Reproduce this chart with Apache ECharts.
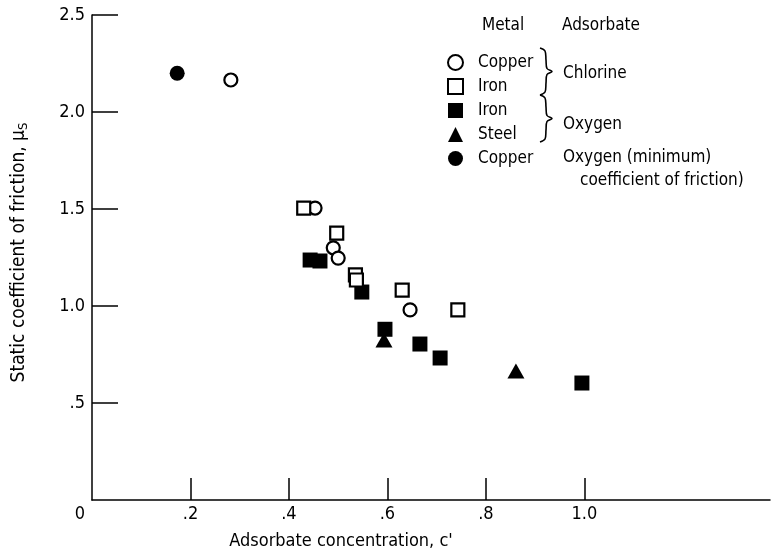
<!DOCTYPE html>
<html>
<head>
<meta charset="utf-8">
<script src="https://cdn.jsdelivr.net/npm/echarts@6/dist/echarts.min.js"></script>
<style>
  html, body { margin: 0; padding: 0; background: #fff; }
  #chart { width: 774px; height: 551px; }
</style>
</head>
<body>
<div id="chart"></div>
<script>
// values: [adsorbate concentration c', static friction coefficient]
var copperChlorine = [[0.282, 2.165], [0.453, 1.505], [0.49, 1.30], [0.50, 1.247], [0.646, 0.98]];
var ironChlorine = [[0.43, 1.505], [0.497, 1.376], [0.535, 1.16], [0.537, 1.134], [0.63, 1.082], [0.743, 0.98]];
var ironOxygen = [[0.443, 1.237], [0.463, 1.232], [0.548, 1.072], [0.595, 0.88], [0.666, 0.804], [0.707, 0.732], [0.995, 0.603]];
var steelOxygen = [[0.593, 0.825], [0.861, 0.665]];
var copperOxygenMin = [[0.173, 2.20]];

var xTicks = [0.2, 0.4, 0.6, 0.8, 1.0];
var xLabels = [0, 0.2, 0.4, 0.6, 0.8, 1.0];
var yTicks = [0.5, 1.0, 1.5, 2.0, 2.5];

var FONT = "'Liberation Sans Narrow', 'DejaVu Sans Condensed', sans-serif";
var INK = '#000';

function fmt(v) {
    var s = v.toFixed(1);
    return s.charAt(0) === '0' ? s.substring(1) : s;
}

// curly brace as a smoothed polyline, opening to the left
function brace(x, y0, y1) {
    var m = (y0 + y1) / 2;
    return {
        type: 'polyline',
        shape: {
            smooth: 0.35,
            points: [[x - 6, y0], [x - 1, y0 + 3], [x, y0 + 12], [x + 1, m - 3], [x + 6, m],
                     [x + 1, m + 3], [x, y1 - 12], [x - 1, y1 - 3], [x - 6, y1]]
        },
        style: { fill: null, stroke: INK, lineWidth: 1.6 }
    };
}

var myChart = echarts.init(document.getElementById('chart'));

var openStyle = { color: '#fff', borderColor: INK, borderWidth: 2.2, opacity: 1 };
var fillStyle = { color: INK, borderColor: INK, borderWidth: 0, opacity: 1 };

var option = {
    backgroundColor: '#fff',
    animation: false,
    textStyle: { fontFamily: FONT, color: INK },
    grid: { left: 92, top: 15, right: 4, bottom: 51, outerBoundsMode: 'none', containLabel: false },
    legend: {
        orient: 'vertical',
        left: 447,
        top: 54,
        padding: 0,
        itemWidth: 15,
        itemHeight: 15,
        itemGap: 7,
        selectedMode: false,
        textStyle: { fontFamily: FONT, fontSize: 17, color: INK, lineHeight: 15, padding: [0, 0, 0, 10] },
        formatter: function (name) { return name.split(' ')[0]; },
        data: ['Copper (chlorine)', 'Iron (chlorine)', 'Iron (oxygen)', 'Steel (oxygen)', 'Copper (oxygen min)']
    },
    xAxis: {
        type: 'value',
        min: 0,
        max: 1.377,
        name: "Adsorbate concentration, c'",
        nameLocation: 'middle',
        nameGap: 32,
        nameTextStyle: { fontFamily: FONT, fontSize: 18, color: INK, padding: [0, 180, 0, 0] },
        axisLine: { lineStyle: { color: INK, width: 1.5 } },
        axisTick: { inside: true, length: 22, customValues: xTicks, lineStyle: { color: INK, width: 1.5 } },
        axisLabel: {
            customValues: xLabels,
            margin: 5,
            fontFamily: FONT,
            fontSize: 18,
            color: INK,
            formatter: function (v) { return v === 0 ? '{z|0}' : fmt(v); },
            rich: { z: { fontFamily: FONT, fontSize: 18, color: INK, padding: [0, 24, 0, 0] } }
        },
        splitLine: { show: false }
    },
    yAxis: {
        type: 'value',
        min: 0,
        max: 2.5,
        name: '{a|Static coefficient of friction, μ}{s|S}',
        nameLocation: 'middle',
        nameGap: 62,
        nameTextStyle: {
            padding: [0, 0, 0, 10],
            rich: {
                a: { fontFamily: FONT, fontSize: 19, color: INK },
                s: { fontFamily: FONT, fontSize: 13, color: INK, verticalAlign: 'bottom', padding: [8, 0, 0, 0] }
            }
        },
        axisLine: { lineStyle: { color: INK, width: 1.5 } },
        axisTick: { inside: true, length: 26, customValues: yTicks, lineStyle: { color: INK, width: 1.5 } },
        axisLabel: {
            customValues: yTicks,
            margin: 7,
            fontFamily: FONT,
            fontSize: 18,
            color: INK,
            formatter: function (v) { return fmt(v); }
        },
        splitLine: { show: false }
    },
    series: [
        { name: 'Copper (chlorine)', type: 'scatter', symbol: 'circle', symbolSize: 13, itemStyle: openStyle, data: copperChlorine, z: 3 },
        { name: 'Iron (chlorine)', type: 'scatter', symbol: 'rect', symbolSize: 13, itemStyle: openStyle, data: ironChlorine, z: 4 },
        { name: 'Iron (oxygen)', type: 'scatter', symbol: 'rect', symbolSize: 15, itemStyle: fillStyle, data: ironOxygen, z: 2 },
        { name: 'Steel (oxygen)', type: 'scatter', symbol: 'triangle', symbolSize: [17, 15], itemStyle: fillStyle, data: steelOxygen, z: 2 },
        { name: 'Copper (oxygen min)', type: 'scatter', symbol: 'circle', symbolSize: 15, itemStyle: fillStyle, data: copperOxygenMin, z: 2 }
    ],
    graphic: [
        { type: 'text', left: 482, top: 17, style: { text: 'Metal', fontFamily: FONT, fontSize: 17, fill: INK } },
        { type: 'text', left: 562, top: 17, style: { text: 'Adsorbate', fontFamily: FONT, fontSize: 17, fill: INK } },
        { type: 'text', left: 563, top: 65, style: { text: 'Chlorine', fontFamily: FONT, fontSize: 17, fill: INK } },
        { type: 'text', left: 563, top: 116, style: { text: 'Oxygen', fontFamily: FONT, fontSize: 17, fill: INK } },
        { type: 'text', left: 563, top: 149, style: { text: 'Oxygen (minimum)', fontFamily: FONT, fontSize: 17, fill: INK } },
        { type: 'text', left: 580, top: 172, style: { text: 'coefficient of friction)', fontFamily: FONT, fontSize: 17, fill: INK } },
        brace(546, 48, 95),
        brace(546, 95, 142)
    ]
};

myChart.setOption(option);
</script>
</body>
</html>
